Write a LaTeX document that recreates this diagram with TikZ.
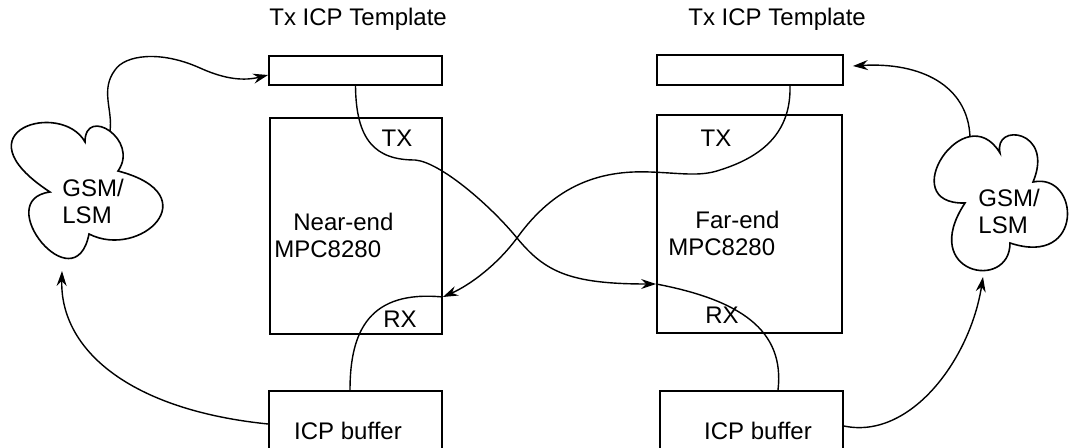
\documentclass[tikz,border=0pt]{standalone}
\usepackage{fontspec}
\setmainfont{Liberation Sans}
\usetikzlibrary{arrows.meta}

\begin{document}
\begin{tikzpicture}[x=0.5pt,y=-0.5pt,>={Stealth[length=7.5pt,width=5pt,inset=2.5pt]},font=\fontsize{12}{13.5}\selectfont]

\tikzset{
bx/.style={
    draw,
    line width=0.9pt,
    inner sep=0pt
},
lk/.style={->,line width=0.7pt},
ln/.style={line width=0.7pt},
cl/.style={line width=0.8pt},
txt/.style={inner sep=1pt}
}

\useasboundingbox (0,0) rectangle (1070,448);
\clip (0,0) rectangle (1070,448);

% near end
\node[bx,minimum width=86.5pt,minimum height=14.5pt] (ltpl) at (355.5,70.5) {};
\node[bx,minimum width=86pt,minimum height=108pt] (lmain) at (356,226) {};
\node[bx,minimum width=86.5pt,minimum height=39.5pt] (lbuf) at (355.5,430.5) {ICP buffer\hspace*{7.5pt}};
\node[txt,anchor=base west] (lttl) at (267,26) {Tx ICP Template};
\node[txt] (ltx) at (397,138) {TX};
\node[txt] (lrxl) at (400,319) {RX};
\node[txt,anchor=west,align=left] (near) at (272,235) {\hspace*{9.5pt}Near-end\\MPC8280};

% far end
\node[bx,minimum width=93pt,minimum height=15pt] (rtpl) at (750,70) {};
\node[bx,minimum width=92.5pt,minimum height=109pt] (rmain) at (749.5,224) {};
\node[bx,minimum width=91.5pt,minimum height=39.5pt] (rbuf) at (751.5,430.5) {\hspace*{6.5pt}ICP buffer};
\node[txt,anchor=base west] (rttl) at (686,26) {Tx ICP Template};
\node[txt] (rtx) at (716,138) {TX};
\node[txt] (rrxl) at (722,315) {RX};
\node[txt,anchor=west,align=left] (far) at (666,233) {\hspace*{13.5pt}Far-end\\MPC8280};

% clouds
\draw[cl] (85,142) .. controls (62,100) and (-45,130) .. (50,192)
  .. controls (-10,200) and (75,305) .. (89,234)
  .. controls (140,260) and (210,195) .. (118,171)
  .. controls (140,140) and (85,105) .. cycle;
\node[txt,anchor=west,align=left] (lgsm) at (60,201) {GSM/\\LSM};
\coordinate (lcld-out) at (110,131);
\coordinate (lcld-in) at (62,271);

\draw[cl] (1000,153) .. controls (993,122) and (1055,130) .. (1033,182)
  .. controls (1080,172) and (1085,268) .. (1010,243)
  .. controls (1010,292) and (918,274) .. (965,203)
  .. controls (893,205) and (965,95) .. cycle;
\node[txt,anchor=west,align=left] (rgsm) at (976,211) {GSM/\\LSM};
\coordinate (rcld-out) at (970,137);
\coordinate (rcld-in) at (983,277);

\coordinate (lrx) at ([yshift=-35.5pt]lmain.east);
\coordinate (rrx) at ([yshift=-30pt]rmain.west);

% links
\draw[lk] (lcld-out) .. controls (113,110) and (100,90) .. (115,70)
  .. controls (125,55) and (160,50) .. (200,68)
  .. controls (220,77) and (240,82) .. ([yshift=-2.25pt]ltpl.west);
\draw[lk] ([yshift=3.25pt]lbuf.west) .. controls (130,410) and (60,350) .. (lcld-in);
\draw[ln] ([xshift=-2.75pt]lbuf.north) .. controls (350,330) and (370,290) .. (lrx);
\draw[lk] (ltpl.south) .. controls (356,140) and (375,160) .. (415,160)
  .. controls (440,162) and (490,205) .. (517,238)
  .. controls (545,272) and (570,284) .. (rrx);
\draw[ln] (rrx) .. controls (740,300) and (785,330) .. ([xshift=13.25pt]rbuf.north);
\draw[lk] ([xshift=20pt]rtpl.south) .. controls (791,128) and (768,155) .. (720,170)
  .. controls (700,177) and (680,173) .. (650,172)
  .. controls (600,170) and (555,185) .. (517,238)
  .. controls (497,265) and (470,285) .. (lrx);
\draw[lk] ([yshift=2.25pt]rbuf.east) .. controls (910,440) and (970,360) .. (rcld-in);
\draw[lk] (rcld-out) .. controls (968,85) and (920,62) .. ([xshift=4.5pt,yshift=2pt]rtpl.east);

\end{tikzpicture}
\end{document}
